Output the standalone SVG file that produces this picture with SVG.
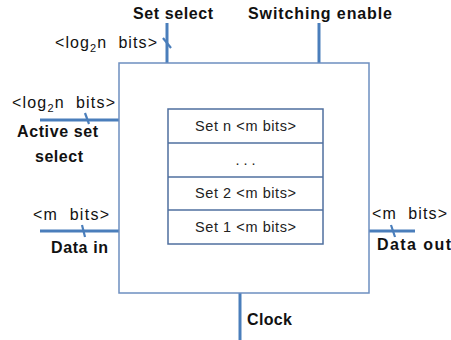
<svg xmlns="http://www.w3.org/2000/svg" width="451" height="340" viewBox="0 0 451 340">
<style>
.bold{font-family:"Liberation Sans",Arial,sans-serif;font-weight:bold;font-size:16px;fill:#111}
.lbl{font-family:"Liberation Sans",Arial,sans-serif;font-size:16px;fill:#111}
.cell{font-family:"Liberation Sans",Arial,sans-serif;font-size:14.5px;fill:#222;text-anchor:middle}
.wire{stroke:#4a7ebb;stroke-width:3;fill:none}
.tick{stroke:#4a7ebb;stroke-width:2.2;fill:none}
.box{stroke:#6d8fc0;stroke-width:1.5;fill:#fff}
.ibox{stroke:#4f6f9f;stroke-width:1.5;fill:#fff}
</style>
<rect width="451" height="340" fill="#fff"/>
<g id="connectors">
<line class="wire" x1="167" y1="23" x2="167" y2="63"/>
<line class="tick" x1="163" y1="38" x2="171" y2="48"/>
<line class="wire" x1="319" y1="23" x2="319" y2="63"/>
<line class="wire" x1="40" y1="120" x2="119" y2="120"/>
<line class="tick" x1="85" y1="113" x2="89" y2="124"/>
<line class="wire" x1="40" y1="231" x2="119" y2="231"/>
<line class="tick" x1="82" y1="225" x2="85" y2="237"/>
<line class="wire" x1="369" y1="231" x2="415" y2="231"/>
<line class="tick" x1="391" y1="225" x2="395" y2="237"/>
<line class="wire" x1="240" y1="293" x2="240" y2="340"/>
</g>
<g id="outer-box">
<rect class="box" x="119" y="63" width="250" height="230"/>
</g>
<g id="sets">
<rect class="ibox" x="168" y="109" width="155" height="135"/>
<line class="ibox" x1="168" y1="143" x2="323" y2="143"/>
<line class="ibox" x1="168" y1="177" x2="323" y2="177"/>
<line class="ibox" x1="168" y1="210" x2="323" y2="210"/>
<text class="cell" x="245.5" y="131" textLength="101">Set n &lt;m bits&gt;</text>
<text class="cell" x="245.5" y="165">. . .</text>
<text class="cell" x="245.5" y="198" textLength="101">Set 2 &lt;m bits&gt;</text>
<text class="cell" x="245.5" y="232" textLength="101">Set 1 &lt;m bits&gt;</text>
</g>
<g id="set-select">
<text class="bold" x="133" y="19" textLength="80">Set select</text>
<text class="lbl" x="55" y="48" textLength="102">&lt;log<tspan font-size="11" dy="4">2</tspan><tspan dy="-4">n&#160; bits&gt;</tspan></text>
</g>
<g id="switching-enable">
<text class="bold" x="248" y="19" textLength="144">Switching enable</text>
</g>
<g id="active-set-select">
<text class="lbl" x="12" y="108" textLength="103">&lt;log<tspan font-size="11" dy="4">2</tspan><tspan dy="-4">n&#160; bits&gt;</tspan></text>
<text class="bold" x="17" y="137" textLength="81">Active set</text>
<text class="bold" x="35" y="162" textLength="48">select</text>
</g>
<g id="data-in">
<text class="lbl" x="33" y="220" textLength="76">&lt;m&#160; bits&gt;</text>
<text class="bold" x="51" y="253" textLength="57">Data in</text>
</g>
<g id="data-out">
<text class="lbl" x="372" y="219" textLength="75">&lt;m&#160; bits&gt;</text>
<text class="bold" x="377" y="250" textLength="74">Data out</text>
</g>
<g id="clock">
<text class="bold" x="247" y="325" textLength="45">Clock</text>
</g>
</svg>
